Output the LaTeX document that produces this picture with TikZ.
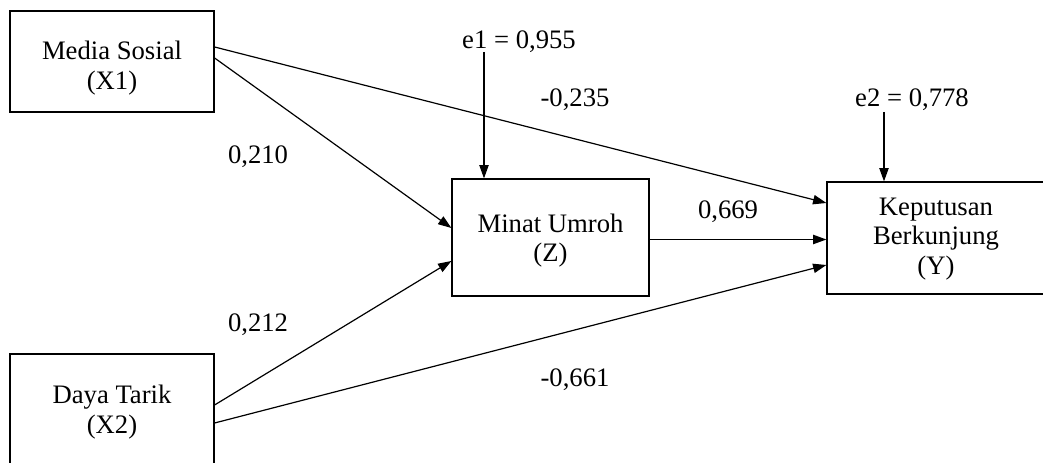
\documentclass[tikz,border=0pt]{standalone}
\usepackage{fontspec}
\setmainfont{Liberation Serif}
\usetikzlibrary{arrows.meta,calc}
\tikzset{
    varbox/.style = {draw, line width = 0.9pt, inner sep = 0pt},
    boxtext/.style = {align = center, inner sep = 0pt},
    path/.style = {-{Triangle[length = 10pt, width = 7pt]}, line width = 0.9pt},
    coef/.style = {inner sep = 0pt}
}
\begin{document}
\begin{tikzpicture}[x = 0.75pt, y = 0.75pt, font = \fontsize{20}{22}\selectfont]
        \useasboundingbox (0, 0) rectangle (1043, 463);
        \node[varbox, minimum width = 204*0.75pt, minimum height = 101*0.75pt,
            label = {[boxtext, yshift = -6.5*0.75pt]center:{Media Sosial\\(X1)}}] (x1) at (112, 401.5) {};
        \node[varbox, minimum width = 204*0.75pt, minimum height = 110*0.75pt,
            label = {[boxtext, yshift = -3*0.75pt]center:{Daya Tarik\\(X2)}}] (x2) at (112, 54) {};
        \node[varbox, minimum width = 197*0.75pt, minimum height = 117*0.75pt,
            label = {[boxtext, yshift = -3*0.75pt]center:{Minat Umroh\\(Z)}}] (z) at (550.5, 225.5) {};
        \node[varbox, minimum width = 218*0.75pt, minimum height = 112*0.75pt,
            label = {[boxtext, yshift = -1*0.75pt]center:{Keputusan\\Berkunjung\\(Y)}}] (y) at (936, 225) {};

        \node[coef] (e1) at (519, 421) {e1 = 0,955};
        \node[coef] (e2) at (912, 363) {e2 = 0,778};
        \coordinate (e1top) at (484, 411);
        \coordinate (e2top) at (884, 351);
        \draw[path] (e1top) -- (e1top |- z.north);
        \draw[path] (e2top) -- (e2top |- y.north);

        \coordinate (zout) at ($(z.east) + (0, -2)$);
        \draw[path] ($(x1.east) + (0, 14.5)$) -- ($(y.west) + (0, 35)$);
        \draw[path] ($(x1.east) + (0, 3.5)$) -- ($(z.west) + (0, 9.5)$);
        \draw[path] ($(x2.east) + (0, 4)$) -- ($(z.west) + (0, -23.5)$);
        \draw[path] ($(x2.east) + (0, -14)$) -- ($(y.west) + (0, -27)$);
        \draw[path] (zout) -- (zout -| y.west);

        \node[coef] (b1) at (575, 363) {-0,235};
        \node[coef] (b2) at (258, 306) {0,210};
        \node[coef] (b3) at (728, 251) {0,669};
        \node[coef] (b4) at (258, 138) {0,212};
        \node[coef] (b5) at (575, 83) {-0,661};
    \end{tikzpicture}
\end{document}
